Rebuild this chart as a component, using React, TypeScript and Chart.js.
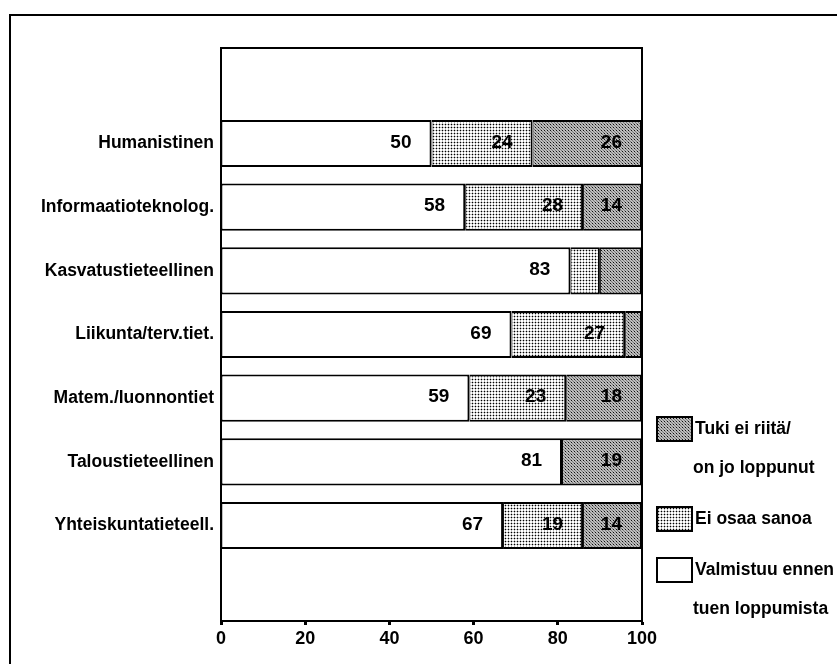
import React, { useEffect, useRef } from "react";
import { Chart, registerables } from "chart.js";

Chart.register(...registerables);

const categories = [
  "",
  "Humanistinen",
  "Informaatioteknolog.",
  "Kasvatustieteellinen",
  "Liikunta/terv.tiet.",
  "Matem./luonnontiet",
  "Taloustieteellinen",
  "Yhteiskuntatieteell.",
  "",
];
const valmistuu = [null, 50, 58, 83, 69, 59, 81, 67];
const eiOsaa = [null, 24, 28, 7, 27, 23, 0, 19];
const tukiEi = [null, 26, 14, 10, 4, 18, 19, 14];
const xTicks = [0, 20, 40, 60, 80, 100];
const legendLines: string[][] = [
  ["Tuki ei riitä/", "on jo loppunut"],
  ["Ei osaa sanoa"],
  ["Valmistuu ennen", "tuen loppumista"],
];

const FONT = "'Liberation Sans', Arial, sans-serif";

function makePattern(kind: "light" | "dark"): CanvasPattern | string {
  const c = document.createElement("canvas");
  c.width = 3;
  c.height = 3;
  const g = c.getContext("2d");
  if (!g) return kind === "light" ? "#c8c8c8" : "#a0a0a0";
  if (kind === "light") {
    g.fillStyle = "#ffffff";
    g.fillRect(0, 0, 3, 3);
    g.fillStyle = "#bbbbbb";
    g.fillRect(1, 0, 1, 1);
    g.fillRect(0, 1, 1, 1);
    g.fillRect(2, 1, 1, 1);
    g.fillRect(1, 2, 1, 1);
    g.fillStyle = "#000000";
    g.fillRect(1, 1, 1, 1);
  } else {
    g.fillStyle = "#bdbdbd";
    g.fillRect(0, 0, 3, 3);
    g.fillStyle = "#777777";
    g.fillRect(0, 0, 1, 1);
    g.fillRect(2, 2, 1, 1);
    g.fillStyle = "#111111";
    g.fillRect(1, 1, 1, 1);
  }
  const p = g.createPattern(c, "repeat");
  return p || "#c0c0c0";
}

export default function App() {
  const ref = useRef<HTMLCanvasElement | null>(null);

  useEffect(() => {
    if (!ref.current) return;
    const light = makePattern("light");
    const dark = makePattern("dark");

    const framePlugin = {
      id: "frame",
      beforeDraw(chart: any) {
        const ctx = chart.ctx;
        ctx.save();
        ctx.fillStyle = "#ffffff";
        ctx.fillRect(0, 0, chart.width, chart.height);
        ctx.strokeStyle = "#000";
        ctx.lineWidth = 2;
        ctx.beginPath();
        ctx.moveTo(10, chart.height + 5);
        ctx.lineTo(10, 15);
        ctx.lineTo(chart.width + 5, 15);
        ctx.stroke();
        ctx.restore();
      },
      afterDraw(chart: any) {
        const ctx = chart.ctx;
        const a = chart.chartArea;
        ctx.save();
        ctx.strokeStyle = "#000";
        ctx.lineWidth = 2;
        ctx.strokeRect(a.left, a.top, a.right - a.left, a.bottom - a.top);
        // legend
        const datasets = chart.data.datasets;
        const order = [2, 1, 0];
        let y = 429;
        ctx.font = `bold 17.5px ${FONT}`;
        ctx.textBaseline = "middle";
        ctx.textAlign = "left";
        order.forEach((di, i) => {
          const ds = datasets[di];
          ctx.fillStyle = ds.backgroundColor;
          ctx.fillRect(657, y - 12, 35, 24);
          ctx.strokeStyle = "#000";
          ctx.lineWidth = 2;
          ctx.strokeRect(657, y - 12, 35, 24);
          ctx.fillStyle = "#000";
          const lines = legendLines[i];
          lines.forEach((t, li) => {
            ctx.fillText(t, li === 0 ? 695 : 693, y + li * 39);
          });
          y += (lines.length - 1) * 39 + 51;
        });
        ctx.restore();
      },
      afterDatasetsDraw(chart: any) {
        const ctx = chart.ctx;
        ctx.save();
        ctx.font = `bold 19px ${FONT}`;
        ctx.fillStyle = "#000";
        ctx.textAlign = "right";
        ctx.textBaseline = "middle";
        chart.data.datasets.forEach((ds: any, di: number) => {
          const meta = chart.getDatasetMeta(di);
          meta.data.forEach((el: any, i: number) => {
            const v = ds.data[i];
            if (v == null || v < 12) return;
            ctx.fillText(String(v), el.x - 20, el.y - 1);
          });
        });
        ctx.restore();
      },
    };

    const chart = new Chart(ref.current, {
      type: "bar",
      data: {
        labels: categories,
        datasets: [
          {
            label: "Valmistuu ennen tuen loppumista",
            data: valmistuu,
            backgroundColor: "#ffffff",
          },
          {
            label: "Ei osaa sanoa",
            data: eiOsaa,
            backgroundColor: light,
          },
          {
            label: "Tuki ei riitä/on jo loppunut",
            data: tukiEi,
            backgroundColor: dark,
          },
        ].map((d) => ({
          ...d,
          borderColor: "#000",
          borderWidth: { top: 2, bottom: 2, left: 1, right: 2 },
          borderSkipped: false,
          categoryPercentage: 1,
          barPercentage: 0.74,
        })) as any,
      },
      options: {
        indexAxis: "y",
        responsive: false,
        animation: false,
        layout: { padding: { top: 48, right: 195, left: 0, bottom: 0 } },
        plugins: {
          legend: { display: false },
          tooltip: { enabled: false },
        },
        scales: {
          x: {
            stacked: true,
            min: 0,
            max: 100,
            afterFit(scale: any) {
              scale.height = 43;
            },
            afterBuildTicks(scale: any) {
              scale.ticks = xTicks.map((v) => ({ value: v }));
            },
            grid: {
              drawOnChartArea: false,
              drawTicks: true,
              tickLength: 4,
              tickWidth: 3,
              tickColor: "#000",
            },
            border: { color: "#000", width: 2 },
            ticks: {
              color: "#000",
              padding: 3,
              font: { family: FONT, size: 18, weight: "bold" },
              maxRotation: 0,
            },
          },
          y: {
            stacked: true,
            afterFit(scale: any) {
              scale.width = 221;
            },
            grid: { display: false, drawTicks: false },
            border: { color: "#000", width: 2 },
            ticks: {
              color: "#000",
              padding: 7,
              autoSkip: false,
              font: { family: FONT, size: 17.5, weight: "bold" },
            },
          },
        },
      },
      plugins: [framePlugin],
    });
    return () => chart.destroy();
  }, []);

  return (
    <div style={{ position: "absolute", left: 0, top: 0, width: 837, height: 664, background: "#fff" }}>
      <canvas ref={ref} width={837} height={664} style={{ display: "block" }} />
    </div>
  );
}
